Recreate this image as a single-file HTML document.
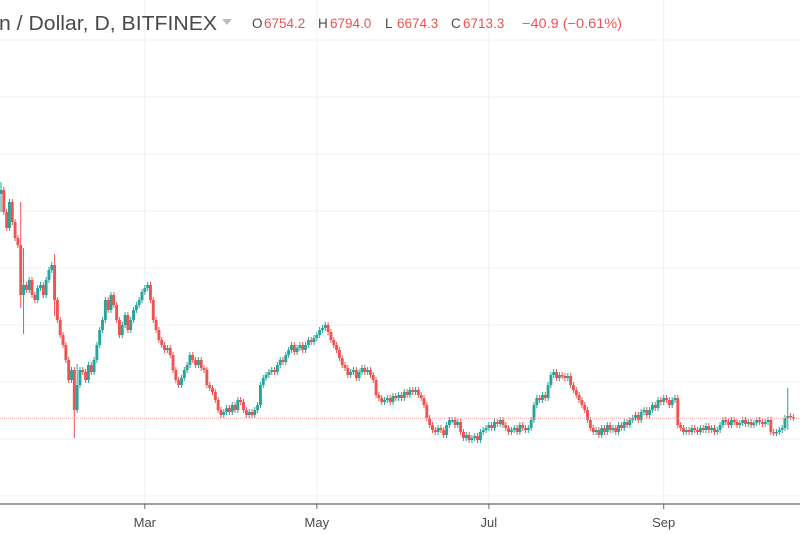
<!DOCTYPE html>
<html><head><meta charset="utf-8">
<style>
body{margin:0;background:#fff;width:800px;height:534px;overflow:hidden;font-family:"Liberation Sans",sans-serif;}
svg{display:block}
</style></head>
<body>
<svg id="chart" width="800" height="534" xmlns="http://www.w3.org/2000/svg">
  <g id="grid"></g>
  <g id="candles"></g>
  <line x1="0" x2="800" y1="418.3" y2="418.3" stroke="#f4a3a1" stroke-width="1" stroke-dasharray="1,1"/>
  <line x1="0" x2="800" y1="504" y2="504" stroke="#666" stroke-width="1.2"/>
  <g id="xaxis"></g>
  <text x="-1" y="30" font-size="20" fill="#4a4a4a" textLength="218" lengthAdjust="spacingAndGlyphs">n / Dollar, D, BITFINEX</text>
  <path d="M222 19 L232 19 L227 25 Z" fill="#bbb"/>
  <g font-size="13.5">
    <text x="252" y="28" fill="#4a4a4a">O</text><text x="264" y="28" fill="#ef5350">6754.2</text>
    <text x="318" y="28" fill="#4a4a4a">H</text><text x="330" y="28" fill="#ef5350">6794.0</text>
    <text x="385" y="28" fill="#4a4a4a">L</text><text x="397" y="28" fill="#ef5350">6674.3</text>
    <text x="451" y="28" fill="#4a4a4a">C</text><text x="463" y="28" fill="#ef5350">6713.3</text>
    <text x="522" y="28" fill="#ef5350" textLength="100" lengthAdjust="spacingAndGlyphs">−40.9 (−0.61%)</text>
  </g>
</svg>
<script>
const firstOpen = 17900;
const closes = [
18100,17000,16200,17500,16500,15700,15350,12850,13350,13100,
13600,12850,12600,13200,13350,12850,13600,14100,14350,12600,
11600,10850,10350,9600,8600,9100,7100,8350,9100,9000,
8600,9350,9000,9600,10350,11100,11600,12600,12100,12850,
12350,11600,10850,11350,11850,11100,11600,12100,12350,12600,
13000,13200,13350,12600,11600,11100,10600,10350,10100,10200,
9850,9100,8600,8350,8700,9100,9350,9850,9600,9350,
9600,9200,9100,8350,8200,8000,7600,7100,6850,7000,
7200,7000,7350,7100,7600,7500,7100,6850,7000,6850,
7100,7350,8350,8700,8850,9000,9100,9000,9350,9600,
9500,9850,10100,10350,10000,10200,10350,10100,10350,10600,
10500,10700,10850,11100,11200,11350,11000,10600,10350,10100,
9700,9350,9200,8850,9000,9100,8700,9000,9200,9000,
9100,8850,8600,7850,7700,7500,7600,7700,7500,7800,
7700,7850,7700,8000,7850,8100,8000,8100,7850,7700,
7350,6700,6350,6100,6000,6200,6100,5850,6350,6600,
6600,6350,6500,6000,5700,5850,5600,5700,5800,5600,
6000,6100,6200,6350,6200,6500,6400,6600,6350,6200,
6000,6100,6200,6000,6350,6200,6100,6200,6600,7350,
7700,7600,7850,7700,8350,8850,9000,8700,8850,8800,
8700,8800,8350,8100,7850,7600,7350,7100,6600,6200,
6000,6100,5850,6200,6000,6350,6100,6200,6000,6350,
6200,6500,6350,6600,6700,6850,6600,7000,7100,6850,
7100,7350,7200,7600,7500,7700,7600,7350,7600,7700,
6350,6200,6000,6100,6000,6200,6100,6000,6200,6100,
6300,6100,6200,6000,6100,6350,6600,6500,6350,6600,
6500,6350,6450,6600,6400,6500,6350,6450,6600,6500,
6400,6500,6600,6000,5950,6000,6100,6200,6700,6800,
6754,6713
];
// [dayIndex, high, low] for notable long wicks
const spikeDays = [0, 7, 8, 19, 26, 27, 279, 281];
const spikeHighs = [18500, 17500, 15200, 14900, 9000, 9400, 8200, 6794];
const spikeLows = [17000, 12200, 10900, 11800, 5700, 7200, 6100, 6674];
const monthLabels = ["Mar","May","Jul","Sep"];
const monthDays = [51, 112, 173, 235];

const X0 = 1, DX = 2.82;
const xOf = i => X0 + i * DX;
const yOf = p => 552 - p / 50; // price -> pixel
const NS = "http://www.w3.org/2000/svg";
function mk(tag, attrs, parent){const e=document.createElementNS(NS,tag);for(const k in attrs)e.setAttribute(k,attrs[k]);parent.appendChild(e);return e;}

const grid = document.getElementById('grid');
[40,97,154,211,268,325,382,439,496].forEach(y=>{
  const l = mk('line',{x1:0,x2:800,y1:y,y2:y,stroke:'#eef1f7','stroke-width':1},grid);
  
  
});
const xa = document.getElementById('xaxis');
monthLabels.forEach((m,k)=>{
  const x = xOf(monthDays[k]);
  const g = mk('line',{x1:x,x2:x,y1:0,y2:504,stroke:'#eef1f7','stroke-width':1},grid);
  
  
  const t = mk('line',{x1:x,x2:x,y1:504,y2:509,stroke:'#666','stroke-width':1},xa);
  
  
  const tx = mk('text',{x:x,y:527,'text-anchor':'middle','font-size':13,fill:'#4a4a4a'},xa);
  tx.textContent = m;
  
  
});

const cg = document.getElementById('candles');
let prev = firstOpen;
closes.forEach((c,i)=>{
  const o = prev; prev = c;
  let hi = Math.max(o,c) + 150, lo = Math.min(o,c) - 150;
  const s = spikeDays.indexOf(i);
  if (s >= 0){ hi = Math.max(hi, spikeHighs[s]); lo = Math.min(lo, spikeLows[s]); }
  const col = c >= o ? '#26a69a' : '#ef5350';
  const x = xOf(i);
  const w = mk('line',{x1:x,x2:x,y1:yOf(hi),y2:yOf(lo),stroke:col,'stroke-width':1},cg);
  
  
  const top = yOf(Math.max(o,c)), bot = yOf(Math.min(o,c));
  const b = mk('rect',{x:x-1.45,y:top,width:2.9,height:Math.max(1.5,bot-top),fill:col},cg);
  
  
});
</script>
</body></html>
